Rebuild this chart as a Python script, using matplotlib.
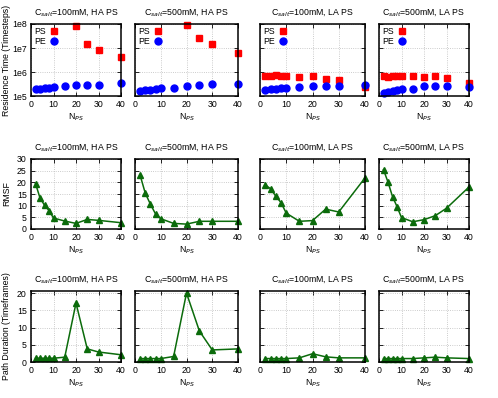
import numpy as np
import matplotlib
matplotlib.use("Agg")
import matplotlib.pyplot as plt
from matplotlib.ticker import FixedLocator, FixedFormatter, NullLocator

# ---------------------------------------------
# data
# ---------------------------------------------
n_ps = [2, 4, 6, 8, 10, 15, 20, 25, 30, 40]
n_ps_ha = [20, 25, 30, 40]   # PS residence visible only from 20 on in HA panels

titles = ["C$_{salt}$=100mM, HA PS", "C$_{salt}$=500mM, HA PS",
          "C$_{salt}$=100mM, LA PS", "C$_{salt}$=500mM, LA PS"]

# residence time (timesteps)
ps_res_100_ha = [8.5e7, 1.5e7, 8.3e6, 4.1e6]
pe_res_100_ha = [1.95e5, 2.0e5, 2.1e5, 2.2e5, 2.4e5, 2.5e5, 2.8e5, 2.9e5, 3.0e5, 3.4e5]
ps_res_500_ha = [9.5e7, 2.5e7, 1.4e7, 6.2e6]
pe_res_500_ha = [1.6e5, 1.7e5, 1.8e5, 1.9e5, 2.1e5, 2.2e5, 2.6e5, 2.8e5, 3.1e5, 3.3e5]
ps_res_100_la = [6.8e5, 7.0e5, 7.2e5, 6.8e5, 6.6e5, 6.3e5, 6.8e5, 5.2e5, 4.6e5, 2.3e5]
pe_res_100_la = [1.8e5, 1.9e5, 2.0e5, 2.1e5, 2.2e5, 2.3e5, 2.6e5, 2.6e5, 2.6e5, 2.9e5]
ps_res_500_la = [6.5e5, 6.2e5, 6.8e5, 6.8e5, 6.5e5, 6.8e5, 6.2e5, 6.5e5, 5.5e5, 3.4e5]
pe_res_500_la = [1.3e5, 1.45e5, 1.6e5, 1.75e5, 1.9e5, 2.0e5, 2.5e5, 2.6e5, 2.5e5, 2.4e5]

# RMSF
rmsf_100_ha = [19.5, 13.3, 10.2, 7.9, 4.7, 3.4, 2.4, 4.1, 3.7, 2.7]
rmsf_500_ha = [23.0, 15.3, 10.6, 6.4, 4.4, 2.4, 2.1, 3.3, 3.3, 3.3]
rmsf_100_la = [18.8, 17.3, 14.1, 11.3, 6.8, 3.3, 3.6, 8.5, 7.3, 21.9]
rmsf_500_la = [25.4, 20.1, 13.9, 9.6, 4.9, 3.1, 4.0, 5.7, 8.9, 18.0]

# path duration (timeframes)
path_100_ha = [1.1, 1.1, 1.1, 1.1, 1.1, 1.4, 17.1, 3.8, 2.9, 2.1]
path_500_ha = [1.0, 1.0, 1.0, 1.0, 1.0, 1.6, 20.0, 9.0, 3.5, 3.8]
path_100_la = [1.0, 1.0, 1.0, 1.0, 1.0, 1.2, 2.4, 1.5, 1.2, 1.2]
path_500_la = [1.0, 1.0, 1.0, 1.0, 1.0, 1.0, 1.2, 1.4, 1.2, 1.0]

ps_res = [ps_res_100_ha, ps_res_500_ha, ps_res_100_la, ps_res_500_la]
ps_x = [n_ps_ha, n_ps_ha, n_ps, n_ps]
pe_res = [pe_res_100_ha, pe_res_500_ha, pe_res_100_la, pe_res_500_la]
rmsf = [rmsf_100_ha, rmsf_500_ha, rmsf_100_la, rmsf_500_la]
path = [path_100_ha, path_500_ha, path_100_la, path_500_la]

GREEN = "#0b6b0b"
FS = 6.3
W, H = 498, 398
col_lr = [(31, 121), (135, 238), (260, 365), (379, 469)]
row_tb = [(24, 96), (159, 229), (291, 362)]

plt.rcParams["font.family"] = ["Liberation Sans", "DejaVu Sans"]
plt.rcParams["font.size"] = FS

fig = plt.figure(figsize=(W / 100, H / 100), dpi=100)


def make_ax(r, c):
    l, rr = col_lr[c]
    t, b = row_tb[r]
    ax = fig.add_axes([l / W, 1 - b / H, (rr - l) / W, (b - t) / H])
    for s in ax.spines.values():
        s.set_linewidth(1.1)
    ax.tick_params(direction="in", top=True, right=True, length=3, width=0.6,
                   labelsize=FS, pad=3)
    ax.grid(True, color="#bbbbbb", linestyle=":", linewidth=0.6)
    ax.set_axisbelow(True)
    ax.set_xlim(0, 40)
    ax.set_xticks([0, 10, 20, 30, 40])
    ax.set_title(titles[c], fontsize=FS, pad=7)
    ax.set_xlabel("N$_{PS}$", fontsize=FS, labelpad=2)
    if c > 0:
        ax.tick_params(labelleft=False)
    return ax


for c in range(4):
    # residence time
    ax = make_ax(0, c)
    ax.set_yscale("log")
    ax.set_ylim(1e5, 1e8)
    ax.yaxis.set_major_locator(FixedLocator([1e5, 1e6, 1e7, 1e8]))
    ax.yaxis.set_major_formatter(FixedFormatter(["1e5", "1e6", "1e7", "1e8"]))
    ax.yaxis.set_minor_locator(NullLocator())
    ax.plot(ps_x[c], ps_res[c], "s", color="red", markersize=5, label="PS",
            clip_on=False)
    ax.plot(n_ps, pe_res[c], "o", color="blue", markersize=5, label="PE",
            clip_on=False)
    ax.legend(loc="upper left", markerfirst=False, frameon=False, fontsize=FS,
              handlelength=1.0, handletextpad=0.4, labelspacing=0.1,
              borderaxespad=0.2, borderpad=0.2)
    if c == 0:
        ax.set_ylabel("Residence Time (Timesteps)", fontsize=FS)
        ax.yaxis.set_label_coords(-0.225, 0.5)

    # RMSF
    ax = make_ax(1, c)
    ax.set_ylim(0, 30)
    ax.set_yticks([0, 5, 10, 15, 20, 25, 30])
    ax.plot(n_ps, rmsf[c], "-^", color=GREEN, markersize=4.8, linewidth=1.1,
            clip_on=False)
    if c == 0:
        ax.set_ylabel("RMSF", fontsize=FS)
        ax.yaxis.set_label_coords(-0.225, 0.5)

    # path duration
    ax = make_ax(2, c)
    ax.set_ylim(0, 20.6)
    ax.set_yticks([0, 5, 10, 15, 20])
    ax.plot(n_ps, path[c], "-^", color=GREEN, markersize=4.8, linewidth=1.1,
            clip_on=False)
    if c == 0:
        ax.set_ylabel("Path Duration (Timeframes)", fontsize=FS)
        ax.yaxis.set_label_coords(-0.225, 0.5)

fig.savefig("out.png", dpi=100)
